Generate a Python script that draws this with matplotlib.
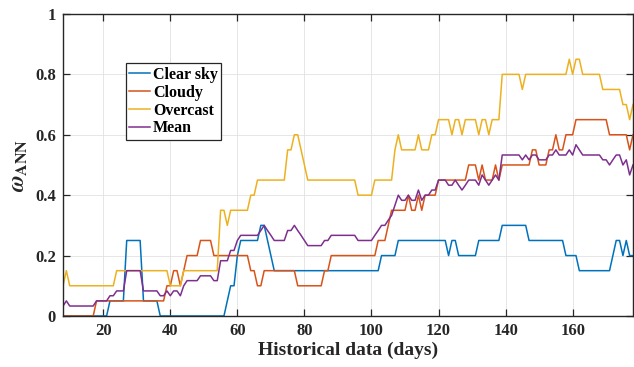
"""
Prediction accuracy of the ANN weight versus length of historical data
"""

import numpy as np
import matplotlib
matplotlib.use('Agg')
import matplotlib.pyplot as plt

# days of historical data (8 .. 178)
days = list(range(8, 179))

clear_sky = [
    0, 0, 0, 0, 0, 0, 0, 0, 0, 0, 0, 0, 0, 0,                     # 8-21
    0.05, 0.05, 0.05, 0.05, 0.05,                                 # 22-26
    0.25, 0.25, 0.25, 0.25, 0.25,                                 # 27-31
    0.05, 0.05, 0.05, 0.05, 0.05,                                 # 32-36
    0, 0, 0, 0, 0, 0, 0, 0, 0, 0, 0, 0, 0, 0, 0, 0, 0, 0, 0, 0,   # 37-56
    0.05, 0.1, 0.1, 0.2,                                          # 57-60
    0.25, 0.25, 0.25, 0.25, 0.25, 0.25,                           # 61-66
    0.3, 0.3, 0.25, 0.2,                                          # 67-70
    0.15, 0.15, 0.15, 0.15, 0.15, 0.15, 0.15, 0.15, 0.15, 0.15,   # 71-80
    0.15, 0.15, 0.15, 0.15, 0.15, 0.15, 0.15, 0.15, 0.15, 0.15,   # 81-90
    0.15, 0.15, 0.15, 0.15, 0.15, 0.15, 0.15, 0.15, 0.15, 0.15,   # 91-100
    0.15, 0.15,                                                   # 101-102
    0.2, 0.2, 0.2, 0.2, 0.2,                                      # 103-107
    0.25, 0.25, 0.25, 0.25, 0.25, 0.25, 0.25, 0.25, 0.25, 0.25,   # 108-117
    0.25, 0.25, 0.25, 0.25, 0.25,                                 # 118-122
    0.2, 0.25, 0.25,                                              # 123-125
    0.2, 0.2, 0.2, 0.2, 0.2, 0.2,                                 # 126-131
    0.25, 0.25, 0.25, 0.25, 0.25, 0.25, 0.25,                     # 132-138
    0.3, 0.3, 0.3, 0.3, 0.3, 0.3, 0.3, 0.3,                       # 139-146
    0.25, 0.25, 0.25, 0.25, 0.25, 0.25, 0.25, 0.25, 0.25, 0.25,   # 147-156
    0.25,                                                         # 157
    0.2, 0.2, 0.2, 0.2,                                           # 158-161
    0.15, 0.15, 0.15, 0.15, 0.15, 0.15, 0.15, 0.15, 0.15, 0.15,   # 162-171
    0.2, 0.25, 0.25, 0.2, 0.25, 0.2, 0.2,                         # 172-178
]

cloudy = [
    0, 0, 0, 0, 0, 0, 0, 0, 0, 0,                                 # 8-17
    0.05, 0.05, 0.05, 0.05, 0.05, 0.05, 0.05, 0.05, 0.05, 0.05,   # 18-27
    0.05, 0.05, 0.05, 0.05, 0.05, 0.05, 0.05, 0.05, 0.05, 0.05,   # 28-37
    0.05,                                                         # 38
    0.1, 0.1, 0.15, 0.15, 0.1, 0.15,                              # 39-44
    0.2, 0.2, 0.2, 0.2,                                           # 45-48
    0.25, 0.25, 0.25, 0.25,                                       # 49-52
    0.2, 0.2, 0.2, 0.2, 0.2, 0.2, 0.2, 0.2, 0.2, 0.2, 0.2,        # 53-63
    0.15, 0.15, 0.1, 0.1,                                         # 64-67
    0.15, 0.15, 0.15, 0.15, 0.15, 0.15, 0.15, 0.15, 0.15, 0.15,   # 68-77
    0.1, 0.1, 0.1, 0.1, 0.1, 0.1, 0.1, 0.1,                       # 78-85
    0.15, 0.15,                                                   # 86-87
    0.2, 0.2, 0.2, 0.2, 0.2, 0.2, 0.2, 0.2, 0.2, 0.2, 0.2, 0.2,   # 88-99
    0.2, 0.2,                                                     # 100-101
    0.25, 0.25, 0.25, 0.3,                                        # 102-105
    0.35, 0.35, 0.35, 0.35, 0.35,                                 # 106-110
    0.4, 0.35, 0.35, 0.4, 0.35,                                   # 111-115
    0.4, 0.4, 0.4, 0.4,                                           # 116-119
    0.45, 0.45, 0.45, 0.45, 0.45, 0.45, 0.45, 0.45, 0.45,         # 120-128
    0.5, 0.5, 0.5, 0.45, 0.5, 0.45, 0.45, 0.45, 0.5, 0.45,        # 129-138
    0.5, 0.5, 0.5, 0.5, 0.5, 0.5, 0.5, 0.5, 0.5,                  # 139-147
    0.55, 0.55, 0.5, 0.5, 0.5, 0.55, 0.55, 0.6, 0.55, 0.55,       # 148-157
    0.6, 0.6, 0.6,                                                # 158-160
    0.65, 0.65, 0.65, 0.65, 0.65, 0.65, 0.65, 0.65, 0.65, 0.65,   # 161-170
    0.6, 0.6, 0.6, 0.6, 0.6, 0.6, 0.55, 0.6,                      # 171-178
]

overcast = [
    0.1, 0.15,                                                    # 8-9
    0.1, 0.1, 0.1, 0.1, 0.1, 0.1, 0.1, 0.1, 0.1, 0.1, 0.1, 0.1,   # 10-21
    0.1, 0.1,                                                     # 22-23
    0.15, 0.15, 0.15, 0.15, 0.15, 0.15, 0.15, 0.15, 0.15, 0.15,   # 24-33
    0.15, 0.15, 0.15, 0.15, 0.15, 0.15,                           # 34-39
    0.1, 0.1, 0.1, 0.1,                                           # 40-43
    0.15, 0.15, 0.15, 0.15, 0.15, 0.15, 0.15, 0.15, 0.15, 0.15,   # 44-53
    0.15,                                                         # 54
    0.35, 0.35, 0.3, 0.35, 0.35, 0.35, 0.35, 0.35, 0.35,          # 55-63
    0.4, 0.4,                                                     # 64-65
    0.45, 0.45, 0.45, 0.45, 0.45, 0.45, 0.45, 0.45, 0.45,         # 66-74
    0.55, 0.55, 0.6, 0.6, 0.55, 0.5,                              # 75-80
    0.45, 0.45, 0.45, 0.45, 0.45, 0.45, 0.45, 0.45, 0.45, 0.45,   # 81-90
    0.45, 0.45, 0.45, 0.45, 0.45,                                 # 91-95
    0.4, 0.4, 0.4, 0.4, 0.4,                                      # 96-100
    0.45, 0.45, 0.45, 0.45, 0.45, 0.45,                           # 101-106
    0.55, 0.6, 0.55, 0.55, 0.55, 0.55, 0.55, 0.6,                 # 107-114
    0.55, 0.55, 0.55, 0.6, 0.6,                                   # 115-119
    0.65, 0.65, 0.65, 0.65, 0.6, 0.65, 0.65, 0.6,                 # 120-127
    0.65, 0.65, 0.65, 0.65, 0.6, 0.65, 0.65, 0.6,                 # 128-135
    0.65, 0.65, 0.65,                                             # 136-138
    0.8, 0.8, 0.8, 0.8, 0.8, 0.8, 0.75,                           # 139-145
    0.8, 0.8, 0.8, 0.8, 0.8, 0.8, 0.8, 0.8, 0.8, 0.8, 0.8, 0.8,   # 146-157
    0.8, 0.85, 0.8, 0.85, 0.85,                                   # 158-162
    0.8, 0.8, 0.8, 0.8, 0.8, 0.8,                                 # 163-168
    0.75, 0.75, 0.75, 0.75, 0.75, 0.75,                           # 169-174
    0.7, 0.7, 0.65, 0.7,                                          # 175-178
]

mean_all = [
    0.033, 0.05,                                                  # 8-9
    0.033, 0.033, 0.033, 0.033, 0.033, 0.033, 0.033, 0.033,       # 10-17
    0.05, 0.05, 0.05, 0.05,                                       # 18-21
    0.067, 0.067, 0.083, 0.083, 0.083,                            # 22-26
    0.15, 0.15, 0.15, 0.15, 0.15,                                 # 27-31
    0.083, 0.083, 0.083, 0.083, 0.083,                            # 32-36
    0.067, 0.067, 0.083, 0.067, 0.083, 0.083, 0.067, 0.1,         # 37-44
    0.117, 0.117, 0.117, 0.117,                                   # 45-48
    0.133, 0.133, 0.133, 0.133,                                   # 49-52
    0.117, 0.117, 0.183, 0.183, 0.183, 0.217, 0.217, 0.25,        # 53-60
    0.267, 0.267, 0.267, 0.267, 0.267, 0.267,                     # 61-66
    0.283, 0.3, 0.283, 0.267,                                     # 67-70
    0.25, 0.25, 0.25, 0.25,                                       # 71-74
    0.283, 0.283, 0.3, 0.283, 0.267, 0.25,                        # 75-80
    0.233, 0.233, 0.233, 0.233, 0.233, 0.25, 0.25,                # 81-87
    0.267, 0.267, 0.267, 0.267, 0.267, 0.267, 0.267, 0.267,       # 88-95
    0.25, 0.25, 0.25, 0.25, 0.25,                                 # 96-100
    0.267, 0.283, 0.3, 0.3, 0.317, 0.333, 0.367, 0.4,             # 101-108
    0.383, 0.383, 0.4, 0.383, 0.383, 0.417, 0.383,                # 109-115
    0.4, 0.4, 0.417, 0.417,                                       # 116-119
    0.45, 0.45, 0.45, 0.433, 0.433, 0.45, 0.433, 0.417, 0.433,    # 120-128
    0.45, 0.45, 0.45, 0.433, 0.467, 0.45, 0.433, 0.45, 0.467,     # 129-137
    0.45,                                                         # 138
    0.533, 0.533, 0.533, 0.533, 0.533, 0.533, 0.517, 0.533,       # 139-146
    0.517, 0.533, 0.533, 0.517, 0.517, 0.517, 0.533, 0.533,       # 147-154
    0.55, 0.533, 0.533, 0.533, 0.55, 0.533, 0.567, 0.55,          # 155-162
    0.533, 0.533, 0.533, 0.533, 0.533, 0.533,                     # 163-168
    0.517, 0.517, 0.5, 0.517, 0.533, 0.533, 0.5, 0.517,           # 169-176
    0.467, 0.5,                                                   # 177-178
]

series_names = ['Clear sky', 'Cloudy', 'Overcast', 'Mean']
x_ticks = [20, 40, 60, 80, 100, 120, 140, 160]
y_ticks = [0, 0.2, 0.4, 0.6, 0.8, 1]
y_tick_labels = ['0', '0.2', '0.4', '0.6', '0.8', '1']

# MATLAB default line colours
line_colors = ['#0072BD', '#D95319', '#EDB120', '#7E2F8E']


def draw_accuracy_plot(save_location):
    """
    绘制不同天气类型下 ω_ANN 随历史数据长度的变化
    """
    plt.rcParams['font.family'] = ['Liberation Serif', 'DejaVu Serif']
    plt.rcParams['font.weight'] = 'bold'
    plt.rcParams['mathtext.fontset'] = 'stix'

    fig = plt.figure(figsize=(6.34, 3.67), dpi=100)
    ax = fig.add_axes([0.0994, 0.139, 0.8990, 0.823])

    all_series = [clear_sky, cloudy, overcast, mean_all]
    for values, name, color in zip(all_series, series_names, line_colors):
        ax.plot(days, values, color=color, linewidth=1.1, label=name)

    ax.set_xlim(days[0], days[-1])
    ax.set_ylim(0, 1)
    ax.set_xticks(x_ticks)
    ax.set_yticks(y_ticks)
    ax.set_yticklabels(y_tick_labels)

    edge = '#262626'
    for spine in ax.spines.values():
        spine.set_color(edge)
        spine.set_linewidth(1.0)
    ax.tick_params(direction='in', length=5, width=0.9, colors=edge,
                   top=True, right=True, labelsize=12, pad=5)
    for label in ax.get_xticklabels() + ax.get_yticklabels():
        label.set_fontweight('bold')
        label.set_color(edge)

    ax.grid(True, color='#e2e2e2', linewidth=0.6)
    ax.set_axisbelow(True)

    ax.set_xlabel('Historical data (days)', fontsize=14, fontweight='bold',
                  color=edge, labelpad=2)
    ax.set_ylabel(r'$\omega_{\mathrm{ANN}}$', fontsize=16.5, color=edge,
                  labelpad=4)

    legend = ax.legend(loc='upper left', bbox_to_anchor=(0.110, 0.836),
                       borderaxespad=0, fancybox=False, framealpha=1,
                       edgecolor=edge, handlelength=1.35, handletextpad=0.15,
                       labelspacing=0.12, borderpad=0.2,
                       prop={'weight': 'bold', 'size': 11.5})
    legend.get_frame().set_linewidth(0.9)

    fig.savefig(save_location, dpi=100)


if __name__ == "__main__":
    draw_accuracy_plot("out.png")
